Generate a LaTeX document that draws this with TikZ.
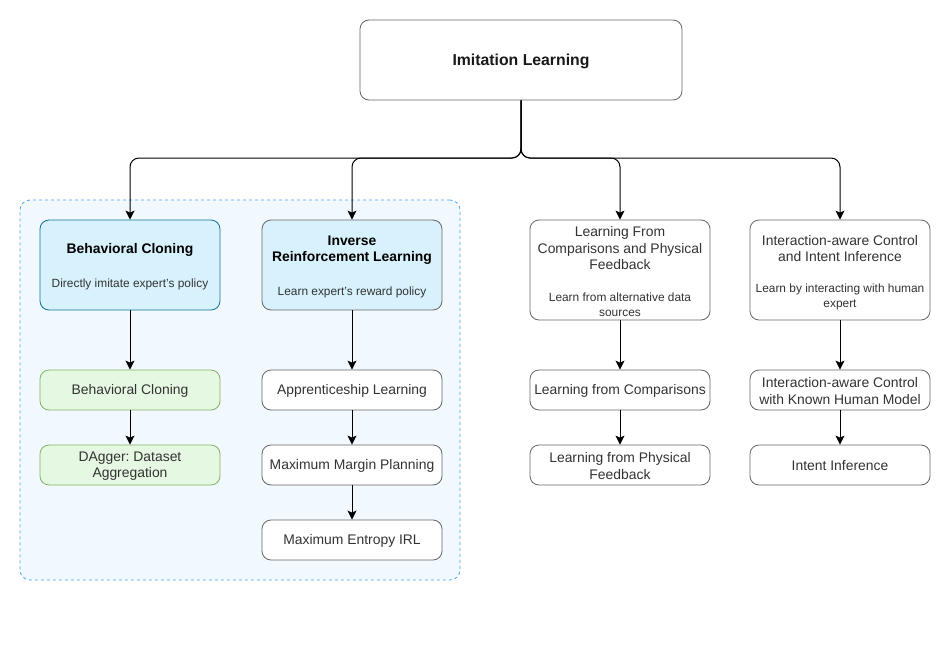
\documentclass[tikz,border=0pt]{standalone}
\usepackage{fontspec}
\setmainfont{Liberation Sans}
\usetikzlibrary{arrows.meta}
\frenchspacing
\definecolor{bcblue}{HTML}{10739E}
\definecolor{bcfill}{HTML}{D7F2FC}
\definecolor{grfill}{HTML}{E5F8E2}
\definecolor{grline}{HTML}{82B366}
\definecolor{contfill}{HTML}{F1F8FE}
\definecolor{contline}{HTML}{4DA3F5}
\definecolor{gline}{HTML}{666666}
\definecolor{txt}{HTML}{333333}
\tikzset{
  box/.style={draw=gline, line width=0.8pt, rounded corners=9pt, fill=white, inner sep=0pt},
  lbl/.style={font=\fontsize{13.9}{16.5}\selectfont, text=txt, align=center, inner sep=0pt},
  hdr/.style={font=\fontsize{13.9}{16.5}\selectfont\bfseries, text=black, align=center, inner sep=0pt},
  sub/.style={font=\fontsize{11.9}{15}\selectfont, text=txt, align=center, inner sep=0pt},
  arr/.style={-{Stealth[length=9pt,width=9pt,inset=2pt]}, line width=1pt, black},
}
\begin{document}
\begin{tikzpicture}[x=1pt,y=-1pt]
\useasboundingbox[fill=white] (0,0) rectangle (951,656);
% container
\node[draw=contline, dashed, line width=0.8pt, fill=contfill, rounded corners=10pt, minimum width=440pt, minimum height=380pt, inner sep=0pt] (cont) at (240,390) {};
% top
\node[box, minimum width=322pt, minimum height=80pt] (top) at (521,60) {};
\node[font=\fontsize{15.8}{18}\selectfont\bfseries, text=black!90, inner sep=0pt] (topt) at (521,61.5) {Imitation Learning};
% first row
\node[box, draw=bcblue, fill=bcfill, minimum width=180pt, minimum height=90pt] (bc) at (130,265) {};
\node[hdr] (bct) at (130,249.5) {Behavioral Cloning};
\node[sub] (bcs) at (130,284) {Directly imitate expert's policy};
\node[box, fill=bcfill, minimum width=180pt, minimum height=90pt] (irl) at (352,265) {};
\node[hdr] (irlt) at (352,250) {Inverse\\Reinforcement Learning};
\node[sub] (irls) at (352,292) {Learn expert's reward policy};
\node[box, minimum width=180pt, minimum height=100pt] (lfc) at (620,270) {};
\node[lbl] (lfct) at (620,248.5) {Learning From\\Comparisons and Physical\\Feedback};
\node[sub] (lfcs) at (620,304.5) {Learn from alternative data\\sources};
\node[box, minimum width=180pt, minimum height=100pt] (iac) at (840,270) {};
\node[lbl] (iact) at (840,248.5) {Interaction-aware Control\\and Intent Inference};
\node[sub] (iacs) at (840,296.5) {Learn by interacting with human\\expert};
% second row
\node[box, draw=grline, fill=grfill, minimum width=180pt, minimum height=40pt] (bc2) at (130,390) {};
\node[lbl] (bc2t) at (130,391) {Behavioral Cloning};
\node[box, minimum width=180pt, minimum height=40pt] (app) at (352,390) {};
\node[lbl] (appt) at (352,391) {Apprenticeship Learning};
\node[box, minimum width=180pt, minimum height=40pt] (lcmp) at (620,390) {};
\node[lbl] (lcmpt) at (620,391) {Learning from Comparisons};
\node[box, minimum width=180pt, minimum height=40pt] (iak) at (840,390) {};
\node[lbl] (iakt) at (840,391) {Interaction-aware Control\\with Known Human Model};
% third row
\node[box, draw=grline, fill=grfill, minimum width=180pt, minimum height=40pt] (dag) at (130,465) {};
\node[lbl] (dagt) at (130,466) {DAgger: Dataset\\Aggregation};
\node[box, minimum width=180pt, minimum height=40pt] (mmp) at (352,465) {};
\node[lbl] (mmpt) at (352,466) {Maximum Margin Planning};
\node[box, minimum width=180pt, minimum height=40pt] (lpf) at (620,465) {};
\node[lbl] (lpft) at (620,466) {Learning from Physical\\Feedback};
\node[box, minimum width=180pt, minimum height=40pt] (ii) at (840,465) {};
\node[lbl] (iit) at (840,466) {Intent Inference};
% fourth row
\node[box, minimum width=180pt, minimum height=40pt] (me) at (352,540) {};
\node[lbl] (met) at (352,541) {Maximum Entropy IRL};
% bus
\coordinate (j) at (521,158);
\draw[arr, rounded corners=9pt] (top.south) -- (j) -- (bc.north |- j) -- (bc.north);
\draw[arr, rounded corners=9pt] (top.south) -- (j) -- (irl.north |- j) -- (irl.north);
\draw[arr, rounded corners=9pt] (top.south) -- (j) -- (lfc.north |- j) -- (lfc.north);
\draw[arr, rounded corners=9pt] (top.south) -- (j) -- (iac.north |- j) -- (iac.north);
% chains
\draw[arr] (bc.south) -- (bc2.north);
\draw[arr] (bc2.south) -- (dag.north);
\draw[arr] (irl.south) -- (app.north);
\draw[arr] (app.south) -- (mmp.north);
\draw[arr] (mmp.south) -- (me.north);
\draw[arr] (lfc.south) -- (lcmp.north);
\draw[arr] (lcmp.south) -- (lpf.north);
\draw[arr] (iac.south) -- (iak.north);
\draw[arr] (iak.south) -- (ii.north);
\end{tikzpicture}
\end{document}
